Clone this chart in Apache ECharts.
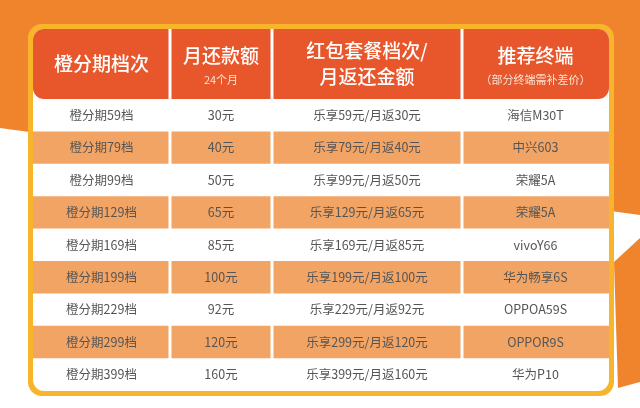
<!DOCTYPE html>
<html><head><meta charset="utf-8">
<script src="https://cdn.jsdelivr.net/npm/echarts@6/dist/echarts.min.js"></script>
<style>html,body{margin:0;padding:0;background:#fff}#main{width:640px;height:408px}</style>
</head><body><div id="main"></div>
<script>
// 表头
const headers = ['橙分期档次', '月还款额', '红包套餐档次/\n月返还金额', '推荐终端'];
const subHeaders = ['', '24个月', '', '（部分终端需补差价）'];
// 表格数据
const tiers = ['橙分期59档','橙分期79档','橙分期99档','橙分期129档','橙分期169档','橙分期199档','橙分期229档','橙分期299档','橙分期399档'];
const monthly = ['30元','40元','50元','65元','85元','100元','92元','120元','160元'];
const packages = ['乐享59元/月返30元','乐享79元/月返40元','乐享99元/月返50元','乐享129元/月返65元','乐享169元/月返85元','乐享199元/月返100元','乐享229元/月返92元','乐享299元/月返120元','乐享399元/月返160元'];
const phones = ['海信M30T','中兴603','荣耀5A','荣耀5A','vivoY66','华为畅享6S','OPPOA59S','OPPOR9S','华为P10'];

const colEdges = [0, 137, 239, 429, 576];
const headH = 70, rowH = 32.4;
const font = '"Noto Sans CJK SC", sans-serif';

const cells = [];
for (let c = 0; c < 4; c++) cells.push([c, -1, headers[c], subHeaders[c]]);
[tiers, monthly, packages, phones].forEach((col, c) => col.forEach((t, r) => cells.push([c, r, t, ''])));

const chart = echarts.init(document.getElementById('main'));
chart.setOption({
  backgroundColor: '#fff',
  animation: false,
  graphic: [
    { type: 'polygon', z: -10, shape: { points: [[0,0],[640,0],[640,215],[0,128]] }, style: { fill: '#F0842C' } },
    { type: 'polygon', z: -10, shape: { points: [[614,262],[640,238],[640,382],[618,388]] }, style: { fill: '#F0842C' } },
    { type: 'rect', z: -5, shape: { x: 28, y: 24, width: 586, height: 372, r: 14 }, style: { fill: '#F8B52C' } },
    { type: 'rect', z: -4, shape: { x: 33, y: 29, width: 576, height: 362, r: 11 }, style: { fill: '#fff' } }
  ],
  grid: { left: 33, right: 31, top: 29, bottom: 17 },
  xAxis: { type: 'value', min: 0, max: 576, show: false },
  yAxis: { type: 'value', min: 0, max: 362, inverse: true, show: false },
  series: [{
    type: 'custom',
    data: cells,
    renderItem: function (params, api) {
      const c = api.value(0), r = api.value(1);
      const item = cells[params.dataIndex];
      const y0 = r < 0 ? 0 : headH + r * rowH;
      const y1 = r < 0 ? headH : headH + (r + 1) * rowH;
      const p0 = api.coord([colEdges[c], y0]);
      const p1 = api.coord([colEdges[c + 1], y1]);
      const w = p1[0] - p0[0], h = p1[1] - p0[1];
      const children = [];
      let fill = null;
      if (r < 0) fill = '#E8562B';
      else if (r % 2 === 1) fill = '#F2A465';
      if (fill) {
        let rr = 0;
        if (r < 0 && c === 0) rr = [11, 0, 0, 11];
        if (r < 0 && c === 3) rr = [0, 11, 11, 0];
        children.push({ type: 'rect', shape: { x: p0[0] + (c > 0 ? 1.5 : 0), y: p0[1], width: w - (c > 0 ? 1.5 : 0) - (c < 3 ? 1.5 : 0), height: h, r: rr }, style: { fill: fill } });
      }
      const cx = p0[0] + w / 2, cy = p0[1] + h / 2;
      if (r < 0) {
        const sub = item[3];
        const lines = item[2].split('\n').length;
        const ty = sub ? cy - 8 : cy;
        children.push({ type: 'text', style: { text: item[2], x: cx, y: ty, align: 'center', verticalAlign: 'middle', fill: '#fff', font: '500 19px ' + font, lineHeight: 26 } });
        if (sub) children.push({ type: 'text', style: { text: sub, x: cx, y: cy + 16, align: 'center', verticalAlign: 'middle', fill: '#fde3d2', font: '11px ' + font } });
      } else {
        children.push({ type: 'text', style: { text: item[2], x: cx, y: cy, align: 'center', verticalAlign: 'middle', fill: '#555', font: '12.5px ' + font } });
      }
      return { type: 'group', children: children };
    }
  }]
});
</script></body></html>
